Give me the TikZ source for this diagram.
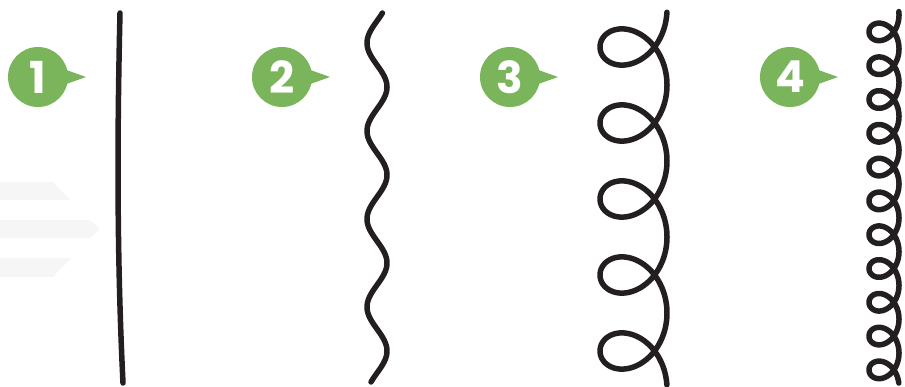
\documentclass[tikz,border=0pt]{standalone}
\usepackage{fontspec}
\newfontfamily\badgefont{Poppins}
\definecolor{badgegreen}{HTML}{7AB55C}
\definecolor{ink}{HTML}{231F20}
\definecolor{ghost}{HTML}{F6F6F6}
\tikzset{
  badge/.style={circle, fill=badgegreen, minimum size=60pt, inner sep=0pt,
    text=white, font=\badgefont\bfseries\fontsize{44}{44}\selectfont},
  stroke/.style={draw=ink, line width=5.5pt, line cap=round, line join=round},
  ghostarrow/.style={fill=ghost, draw=none}
}
\begin{document}
\begin{tikzpicture}[x=1pt, y=-1pt]
\useasboundingbox (0,0) rectangle (905,387);

% faint motion arrows on the left
\fill[ghostarrow] (0,182) -- (53,182) -- (70,200) -- (0,200) -- cycle;
\fill[ghostarrow] (0,220) -- (90,220) -- (100,229) -- (90,238) -- (0,238) -- cycle;
\fill[ghostarrow] (0,258) -- (72,258) -- (53,277) -- (0,277) -- cycle;

% badges
\foreach \n/\cx in {1/38, 2/282, 3/510, 4/790}{
  \fill[badgegreen] (\cx+20,67) -- (\cx+48,77) -- (\cx+20,87) -- cycle;
  \node[badge] (b\n) at (\cx,77) {\n};
}

% 1: straight line
\coordinate (l1top) at (120,13);
\coordinate (l1bot) at (123,383);
\draw[stroke] (l1top) .. controls (117,140) and (117,260) .. (l1bot);

% 2: wave
\draw[stroke] plot[domain=13:382, samples=220, variable=\y] ({377-10*cos((\y-43)*4.0909)}, {\y});

% 3: large coil
\draw[stroke] plot[domain=4:1795, samples=700, variable=\t] ({633.5+33.5*cos(\t)}, {9+\t*0.21111+35*sin(\t)});

% 4: small coil
\draw[stroke] plot[domain=-9:3950, samples=1200, variable=\t] ({884+15*cos(\t)}, {15+\t*0.093889+16.3*sin(\t)});
\end{tikzpicture}
\end{document}
